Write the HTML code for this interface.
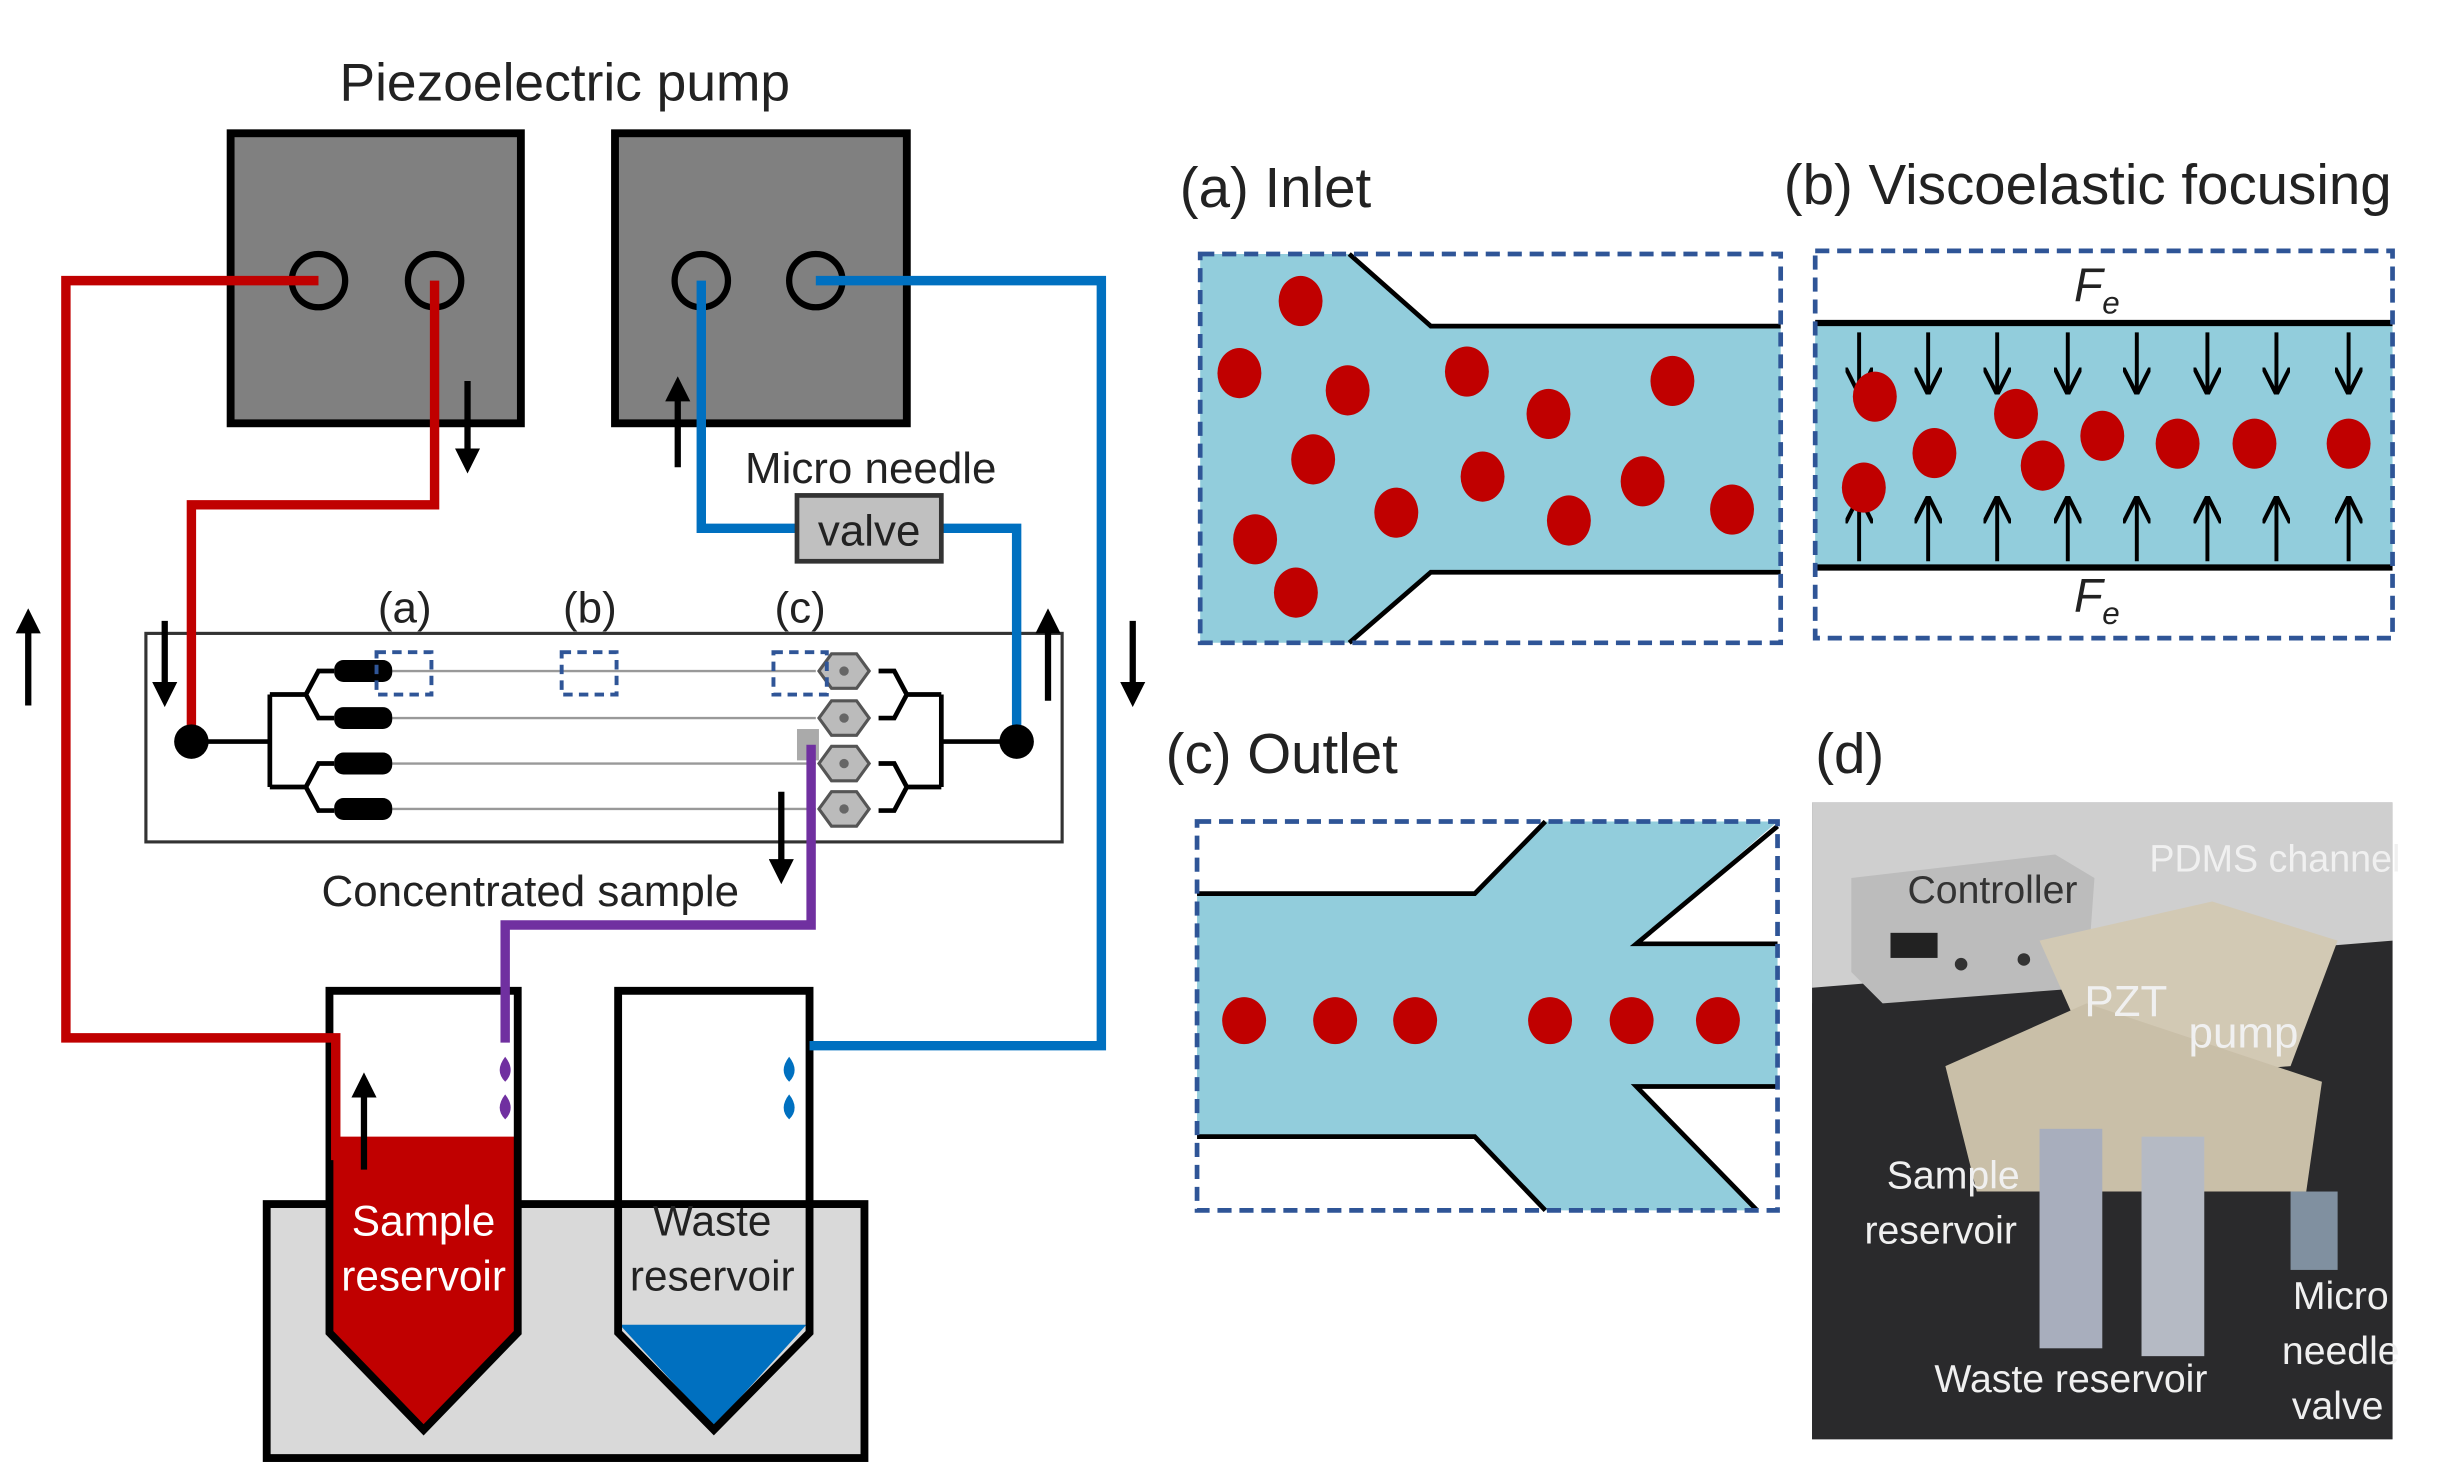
<!DOCTYPE html>
<html><head><meta charset="utf-8"><style>
html,body{margin:0;padding:0;background:#fff}
svg{display:block}
text{font-family:"Liberation Sans",sans-serif}
</style></head><body>
<svg width="2460" height="1480" viewBox="0 0 1568 944" preserveAspectRatio="none" xmlns="http://www.w3.org/2000/svg">
<defs>
<marker id="ah" viewBox="0 0 10 10" refX="5" refY="5" markerWidth="4" markerHeight="4" orient="auto"><path d="M0,0 L10,5 L0,10 z" fill="#000"/></marker>
<marker id="ah2" viewBox="0 0 10 10" refX="9" refY="5" markerWidth="7" markerHeight="7" orient="auto"><path d="M0,0 L10,5 L0,10" fill="none" stroke="#000" stroke-width="1.5"/></marker>
</defs>
<rect width="1568" height="944" fill="#fff"/>
<!-- LEFT DIAGRAM -->
<text x="360" y="64" font-size="34" text-anchor="middle" fill="#222">Piezoelectric pump</text>
<rect x="147" y="85" width="185" height="185" fill="#808080" stroke="#000" stroke-width="5"/>
<rect x="392" y="85" width="186" height="185" fill="#808080" stroke="#000" stroke-width="5"/>
<g fill="none" stroke="#000" stroke-width="4">
<circle cx="203" cy="179" r="17"/><circle cx="277" cy="179" r="17"/>
<circle cx="447" cy="179" r="17"/><circle cx="520" cy="179" r="17"/>
</g>
<!-- chip -->
<rect x="93" y="404" width="584" height="133" fill="none" stroke="#333" stroke-width="2"/>
<g stroke="#999" stroke-width="1.5"><line x1="245" y1="428" x2="520" y2="428"/><line x1="245" y1="458" x2="520" y2="458"/><line x1="245" y1="487" x2="520" y2="487"/><line x1="245" y1="516" x2="520" y2="516"/></g>
<g fill="none" stroke="#000" stroke-width="3">
<path d="M122,473 H172 M172,443 V502 M172,443 H195 M172,502 H195 M195,443 l8,-15 h10 M195,443 l8,15 h10 M195,502 l8,-15 h10 M195,502 l8,15 h10"/>
<path d="M648,473 H600 M600,443 V502 M600,443 H578 M600,502 H578 M578,443 l-8,-15 h-10 M578,443 l-8,15 h-10 M578,502 l-8,-15 h-10 M578,502 l-8,15 h-10"/>
</g>
<g fill="#000">
<rect x="213" y="421" width="37" height="14" rx="6"/><rect x="213" y="451" width="37" height="14" rx="6"/>
<rect x="213" y="480" width="37" height="14" rx="6"/><rect x="213" y="509" width="37" height="14" rx="6"/>
</g>
<g fill="#bbb" stroke="#555" stroke-width="2">
<polygon points="522,428 530,417 546,417 554,428 546,439 530,439"/>
<polygon points="522,458 530,447 546,447 554,458 546,469 530,469"/>
<polygon points="522,487 530,476 546,476 554,487 546,498 530,498"/>
<polygon points="522,516 530,505 546,505 554,516 546,527 530,527"/>
</g>
<g fill="#666"><circle cx="538" cy="428" r="3"/><circle cx="538" cy="458" r="3"/><circle cx="538" cy="487" r="3"/><circle cx="538" cy="516" r="3"/></g>
<rect x="508" y="465" width="14" height="20" fill="#aaa"/>
<g fill="none" stroke="#2f5597" stroke-width="2.5" stroke-dasharray="6,4">
<rect x="240" y="416" width="35" height="27"/><rect x="358" y="416" width="35" height="27"/><rect x="493" y="416" width="34" height="27"/>
</g>
<g font-size="28" fill="#222" text-anchor="middle"><text x="258" y="397">(a)</text><text x="376" y="397">(b)</text><text x="510" y="397">(c)</text></g>
<!-- reservoirs -->
<rect x="170" y="768" width="381" height="162" fill="#d9d9d9" stroke="#000" stroke-width="5"/>
<polygon points="210,725 330,725 330,850 270,912 210,850" fill="#c00000"/>
<polygon points="395,845 514,845 455,910" fill="#0070c0"/>
<path d="M210,632 H330 V850 L270,912 L210,850 Z" fill="none" stroke="#000" stroke-width="5"/>
<path d="M394,632 H516 V850 L455,912 L394,850 Z" fill="none" stroke="#000" stroke-width="5"/>
<g font-size="27" text-anchor="middle"><text x="270" y="788" fill="#fff">Sample</text><text x="270" y="823" fill="#fff">reservoir</text>
<text x="454" y="788" fill="#222">Waste</text><text x="454" y="823" fill="#222">reservoir</text></g>
<g fill="#7030a0"><path d="M322,674 q-7,9 0,16 q7,-7 0,-16z"/><path d="M322,698 q-7,9 0,16 q7,-7 0,-16z"/></g>
<g fill="#0070c0"><path d="M503,674 q-7,9 0,16 q7,-7 0,-16z"/><path d="M503,698 q-7,9 0,16 q7,-7 0,-16z"/></g>
<!-- tubes -->
<g fill="none" stroke-width="6" stroke-linejoin="miter">
<path d="M203,179 H42 V662 H214 V740" stroke="#c00000"/>
<path d="M277,179 V322 H122 V473" stroke="#c00000"/>
<path d="M520,179 H702 V667 H516" stroke="#0070c0"/>
<path d="M447,179 V337 H508 M600,337 H648 V473" stroke="#0070c0"/>
<path d="M517,475 V590 H322 V665" stroke="#7030a0"/>
</g>
<circle cx="122" cy="473" r="11" fill="#000"/><circle cx="648" cy="473" r="11" fill="#000"/>
<rect x="508" y="316" width="92" height="42" fill="#c0c0c0" stroke="#333" stroke-width="3"/>
<text x="554" y="348" font-size="28" text-anchor="middle" fill="#222">valve</text>
<text x="555" y="308" font-size="28" text-anchor="middle" fill="#222">Micro needle</text>
<text x="338" y="578" font-size="28" text-anchor="middle" fill="#222">Concentrated sample</text>
<!-- arrows -->
<g stroke="#000" stroke-width="4" marker-end="url(#ah)">
<line x1="18" y1="450" x2="18" y2="396"/>
<line x1="105" y1="396" x2="105" y2="443"/>
<line x1="298" y1="243" x2="298" y2="294"/>
<line x1="432" y1="298" x2="432" y2="248"/>
<line x1="668" y1="447" x2="668" y2="396"/>
<line x1="722" y1="396" x2="722" y2="443"/>
<line x1="498" y1="505" x2="498" y2="556"/>
<line x1="232" y1="746" x2="232" y2="692"/>
</g>
<!-- PANEL A -->
<text x="752" y="132" font-size="36" fill="#222">(a) Inlet</text>
<polygon points="765,162 860,162 912,208 1135,208 1135,365 912,365 860,410 765,410" fill="#92cddc"/>
<path d="M860,162 L912,208 H1135 M1135,365 H912 L860,410" fill="none" stroke="#000" stroke-width="3"/>
<rect x="765" y="162" width="370" height="248" fill="none" stroke="#2f5597" stroke-width="3" stroke-dasharray="9,5"/>
<g fill="#c00000">
<ellipse cx="829" cy="192" rx="14" ry="16"/><ellipse cx="790" cy="238" rx="14" ry="16"/><ellipse cx="859" cy="249" rx="14" ry="16"/>
<ellipse cx="935" cy="237" rx="14" ry="16"/><ellipse cx="987" cy="264" rx="14" ry="16"/><ellipse cx="1066" cy="243" rx="14" ry="16"/>
<ellipse cx="837" cy="293" rx="14" ry="16"/><ellipse cx="945" cy="304" rx="14" ry="16"/><ellipse cx="890" cy="327" rx="14" ry="16"/>
<ellipse cx="1000" cy="332" rx="14" ry="16"/><ellipse cx="1047" cy="307" rx="14" ry="16"/><ellipse cx="1104" cy="325" rx="14" ry="16"/>
<ellipse cx="800" cy="344" rx="14" ry="16"/><ellipse cx="826" cy="378" rx="14" ry="16"/>
</g>
<!-- PANEL B -->
<text x="1137" y="130" font-size="36" fill="#222">(b) Viscoelastic focusing</text>
<rect x="1157" y="206" width="368" height="156" fill="#92cddc"/>
<path d="M1157,206 H1525 M1157,362 H1525" stroke="#000" stroke-width="4"/>
<rect x="1157" y="160" width="368" height="247" fill="none" stroke="#2f5597" stroke-width="3" stroke-dasharray="9,5"/>
<g font-size="30" font-style="italic" fill="#222"><text x="1322" y="192">F</text><text x="1340" y="200" font-size="20">e</text>
<text x="1322" y="390">F</text><text x="1340" y="398" font-size="20">e</text></g>
<g stroke="#000" stroke-width="2.5" marker-end="url(#ah2)">
<line x1="1185" y1="212" x2="1185" y2="250"/><line x1="1229" y1="212" x2="1229" y2="250"/><line x1="1273" y1="212" x2="1273" y2="250"/><line x1="1318" y1="212" x2="1318" y2="250"/>
<line x1="1362" y1="212" x2="1362" y2="250"/><line x1="1407" y1="212" x2="1407" y2="250"/><line x1="1451" y1="212" x2="1451" y2="250"/><line x1="1497" y1="212" x2="1497" y2="250"/>
<line x1="1185" y1="358" x2="1185" y2="318"/><line x1="1229" y1="358" x2="1229" y2="318"/><line x1="1273" y1="358" x2="1273" y2="318"/><line x1="1318" y1="358" x2="1318" y2="318"/>
<line x1="1362" y1="358" x2="1362" y2="318"/><line x1="1407" y1="358" x2="1407" y2="318"/><line x1="1451" y1="358" x2="1451" y2="318"/><line x1="1497" y1="358" x2="1497" y2="318"/>
</g>
<g fill="#c00000">
<ellipse cx="1195" cy="253" rx="14" ry="16"/><ellipse cx="1188" cy="311" rx="14" ry="16"/><ellipse cx="1233" cy="289" rx="14" ry="16"/>
<ellipse cx="1285" cy="264" rx="14" ry="16"/><ellipse cx="1302" cy="297" rx="14" ry="16"/><ellipse cx="1340" cy="278" rx="14" ry="16"/>
<ellipse cx="1388" cy="283" rx="14" ry="16"/><ellipse cx="1437" cy="283" rx="14" ry="16"/><ellipse cx="1497" cy="283" rx="14" ry="16"/>
</g>
<!-- PANEL C -->
<text x="743" y="493" font-size="36" fill="#222">(c) Outlet</text>
<polygon points="763,570 940,570 985,524 1133,524 1043,602 1133,602 1133,693 1043,693 1120,772 985,772 940,725 763,725" fill="#92cddc"/>
<path d="M763,570 H940 L985,524 M1133,527 L1043,602 H1133 M1133,693 H1043 L1120,772 M985,772 L940,725 H763" fill="none" stroke="#000" stroke-width="3"/>
<rect x="763" y="524" width="370" height="248" fill="none" stroke="#2f5597" stroke-width="3" stroke-dasharray="9,5"/>
<g fill="#c00000">
<ellipse cx="793" cy="651" rx="14" ry="15"/><ellipse cx="851" cy="651" rx="14" ry="15"/><ellipse cx="902" cy="651" rx="14" ry="15"/>
<ellipse cx="988" cy="651" rx="14" ry="15"/><ellipse cx="1040" cy="651" rx="14" ry="15"/><ellipse cx="1095" cy="651" rx="14" ry="15"/>
</g>
<!-- PANEL D photo -->
<text x="1157" y="493" font-size="36" fill="#222">(d)</text>
<rect x="1155" y="512" width="370" height="406" fill="#2e2e30"/>
<polygon points="1155,512 1525,512 1525,640 1440,600 1155,640" fill="#cfcfcf"/>
<polygon points="1155,630 1525,600 1525,918 1155,918" fill="#2a2a2c"/>
<polygon points="1180,560 1310,545 1335,560 1330,630 1200,640 1180,620" fill="#bcbcbc"/>
<rect x="1205" y="595" width="30" height="16" fill="#222"/>
<circle cx="1250" cy="615" r="4" fill="#333"/><circle cx="1290" cy="612" r="4" fill="#333"/>
<polygon points="1300,600 1410,575 1490,600 1460,680 1340,690" fill="#d2c9b4"/>
<polygon points="1240,680 1330,640 1480,690 1470,760 1260,760" fill="#c9bfa8"/>
<rect x="1300" y="720" width="40" height="140" fill="#a8aebd"/>
<rect x="1365" y="725" width="40" height="140" fill="#b5bac4"/>
<rect x="1460" y="760" width="30" height="50" fill="#8090a0"/>
<g fill="#f0f0f0" font-size="25" text-anchor="middle">
<text x="1270" y="576" fill="#333">Controller</text>
<text x="1450" y="556" font-size="24">PDMS channel</text>
<text x="1355" y="648" font-size="28">PZT</text>
<text x="1430" y="668" font-size="28">pump</text>
<text x="1245" y="758">Sample</text>
<text x="1237" y="793">reservoir</text>
<text x="1320" y="888">Waste reservoir</text>
<text x="1492" y="835">Micro</text>
<text x="1492" y="870">needle</text>
<text x="1490" y="905">valve</text>
</g>
</svg>
</body></html>
